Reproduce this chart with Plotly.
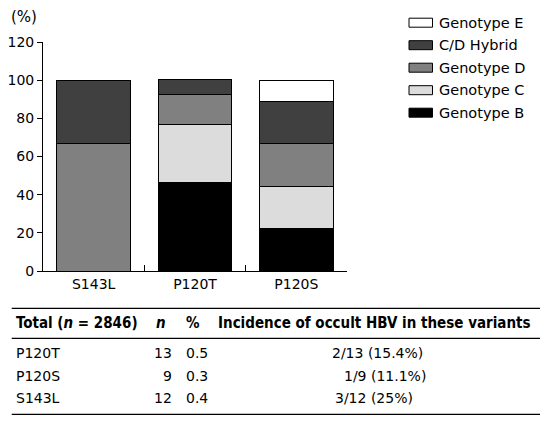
import plotly.graph_objects as go

# ---- data ----
variants = ["S143L", "P120T", "P120S"]
genotype_b = [0, 46.2, 22.2]
genotype_c = [0, 30.8, 22.2]
genotype_d = [66.7, 15.4, 22.2]
cd_hybrid = [33.3, 7.7, 22.2]
genotype_e = [0, 0, 11.1]

series_names = ["Genotype B", "Genotype C", "Genotype D", "C/D Hybrid", "Genotype E"]
series_values = [genotype_b, genotype_c, genotype_d, cd_hybrid, genotype_e]
series_colors = ["#000000", "#dcdcdc", "#808080", "#404040", "#ffffff"]

table_header = ["Total (<i>n</i> = 2846)", "<i>n</i>", "%", "Incidence of occult HBV in these variants"]
table_variant = ["P120T", "P120S", "S143L"]
table_n = ["13", "9", "12"]
table_pct = ["0.5", "0.3", "0.4"]
table_incidence = ["2/13 (15.4%)", "1/9 (11.1%)", "3/12 (25%)"]

# ---- layout geometry (page body has an 8px margin) ----
OFF = 8
W, H = 550 - OFF, 424 - OFF
L, R, T, B = 35, 203, 34, 153
PW, PH = W - L - R, H - T - B
FONT = "DejaVu Sans, sans-serif"
BFONT = "DejaVu Sans Condensed, DejaVu Sans, sans-serif"
FS = 14


def px(x):
    # x given in screen pixels
    return (x - OFF - L) / PW


def py(y):
    # y given in screen pixels (from top)
    return (H - B - (y - OFF)) / PH


fig = go.Figure()
for name, vals, col in zip(series_names, series_values, series_colors):
    fig.add_trace(go.Bar(x=variants, y=vals, name=name,
                         marker=dict(color=col, line=dict(color="black", width=1)),
                         showlegend=False))

shapes = []
annotations = []

# custom legend (top entry first)
leg_y0 = 22.7
for i, (name, col) in enumerate(zip(series_names[::-1], series_colors[::-1])):
    yc = leg_y0 + i * 22.5
    shapes.append(dict(type="rect", xref="paper", yref="paper", x0=px(409), x1=px(432.5),
                       y0=py(yc - 4.5), y1=py(yc + 4.5),
                       fillcolor=col, line=dict(color="black", width=1)))
    annotations.append(dict(xref="paper", yref="paper", x=px(437), y=py(yc), text=name, showarrow=False,
                            xanchor="left", yanchor="middle", font=dict(family=FONT, size=14.5, color="black")))

# (%) label
annotations.append(dict(xref="paper", yref="paper", x=px(9), y=py(16.7), text="(%)", showarrow=False,
                        xanchor="left", yanchor="middle", font=dict(family=FONT, size=15, color="black")))

# table rules
for yl in [308.3, 338.3, 414.3]:
    shapes.append(dict(type="line", xref="paper", yref="paper", x0=px(11.7), x1=px(540), y0=py(yl), y1=py(yl),
                       line=dict(color="black", width=1.3)))

# table header
hy = 323.3
hdr_pos = [(14, "left"), (167.5, "right"), (184, "left"), (215.5, "left")]
for txt, (xh, anc) in zip(table_header, hdr_pos):
    annotations.append(dict(xref="paper", yref="paper", x=px(xh), y=py(hy), text="<b>" + txt + "</b>",
                            showarrow=False, xanchor=anc, yanchor="middle",
                            font=dict(family=BFONT, size=15, color="black")))

row_y = [353.3, 376, 398.3]
inc_left = [330, 341.7, 333]
for i in range(3):
    ry = row_y[i]
    for txt, xh, anc in [(table_variant[i], 14, "left"), (table_n[i], 174, "right"),
                         (table_pct[i], 184, "left"), (table_incidence[i], inc_left[i], "left")]:
        annotations.append(dict(xref="paper", yref="paper", x=px(xh), y=py(ry), text=txt, showarrow=False,
                                xanchor=anc, yanchor="middle", font=dict(family=FONT, size=FS, color="black")))

fig.update_layout(
    template="none",
    width=W, height=H, margin=dict(l=L, r=R, t=T, b=B, pad=0),
    paper_bgcolor="white", plot_bgcolor="white",
    barmode="stack", bargap=0.27,
    font=dict(family=FONT, size=FS, color="black"),
    shapes=shapes, annotations=annotations,
    xaxis=dict(automargin=False, showline=True, linecolor="black", linewidth=1, ticks="inside",
               tickson="boundaries", ticklen=6, tickcolor="black", showgrid=False,
               tickfont=dict(family=FONT, size=FS)),
    yaxis=dict(automargin=False, range=[0, 120], dtick=20, showline=True, linecolor="black", linewidth=1,
               ticks="outside", ticklen=5, tickcolor="black", showgrid=False, zeroline=False,
               tickfont=dict(family=FONT, size=FS)),
)
fig.write_html("out.html")
